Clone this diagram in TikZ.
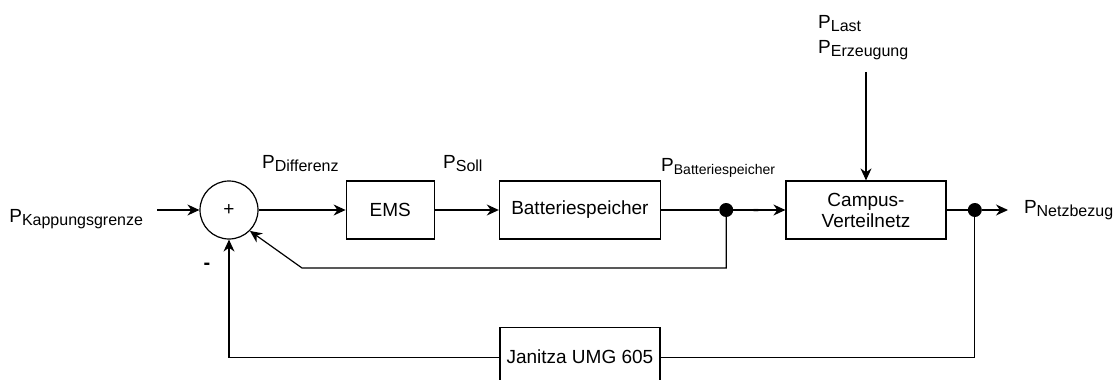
\documentclass[tikz,border=0pt]{standalone}
\usepackage{fontspec}
\setmainfont{Liberation Sans}
\usepackage{tikz}
\usetikzlibrary{positioning,arrows.meta}

% P with a lowered index
\newcommand{\Psub}[2][16]{P\raisebox{-3.5pt}{\fontsize{#1}{#1}\selectfont #2}}

\begin{document}
\begin{tikzpicture}[
  x=1pt, y=-1pt,
  every node/.style={font=\fontsize{19}{21}\selectfont},
  block/.style={draw, line width=1.2pt, minimum height=58pt, inner sep=0pt, align=center},
  summer/.style={draw, circle, line width=1.2pt, minimum size=58pt, inner sep=0pt},
  branch/.style={circle, fill=black, minimum size=14pt, inner sep=0pt},
  sig/.style={inner sep=0pt},
  minus/.style={inner sep=0pt, font=\fontsize{20}{20}\selectfont\bfseries},
  flow/.style={draw, line width=1.2pt, -{Stealth[length=12pt, width=11pt]}},
  wire/.style={draw, line width=1.2pt}
]
\useasboundingbox (0,0) rectangle (1120,380);

% forward path
\node[summer] (sum) at (229,210) {+};
\node[block, minimum width=88pt] (ems) [right=87pt of sum] {EMS};
\node[block, minimum width=161pt] (batt) [right=64pt of ems] {Batteriespeicher};
\node[branch] (dot1) [right=58pt of batt] {};
\node[block, minimum width=160pt] (campus) [right=52pt of dot1] {Campus-\\Verteilnetz};
\node[branch] (dot2) [right=21pt of campus] {};
\node[block, minimum width=160pt, minimum height=60pt] (jan) [below=87pt of batt] {Janitza UMG 605};
\coordinate (fb1) at (302,268);

% signal names
\node[sig, outer xsep=14pt, anchor=base east] (kap) at (157,222) {\Psub{Kappungsgrenze}};
\node[sig, outer xsep=16pt, anchor=base west] (netz) at (1008,213) {\Psub{Netzbezug}};
\node[sig, anchor=base west] (diff) at (262,168) {\Psub{Differenz}};
\node[sig, anchor=base west] (soll) at (443,168) {\Psub{Soll}};
\node[sig, anchor=base west] (pbat) at (661,171) {\Psub[14]{Batteriespeicher}};
\node[sig, anchor=base west] (last) at (818,28) {\Psub{Last}};
\node[sig, outer ysep=12pt, anchor=base west] (erz) at (818,53) {\Psub{Erzeugung}};
\node[minus, anchor=base] (m1) at (207,269) {-};
\node[minus, anchor=base, font=\fontsize{19}{19}\selectfont\bfseries] (m2) at (756,215) {-};

% connectors
\draw[flow] (kap.east |- sum) -- (sum);
\draw[flow] (sum) -- (ems);
\draw[flow] (ems) -- (batt);
\draw[wire] (batt) -- (dot1);
\draw[flow] (dot1) -- (campus);
\draw[wire] (campus) -- (dot2);
\draw[flow] (dot2) -- (netz.west |- dot2);
\draw[flow] (erz.south -| campus) -- (campus);
\draw[flow] (dot1) |- (fb1) -- (sum.-45);
\draw[wire] (dot2) |- (jan.east);
\draw[flow] (jan.west) -| (sum.south);
\end{tikzpicture}
\end{document}
